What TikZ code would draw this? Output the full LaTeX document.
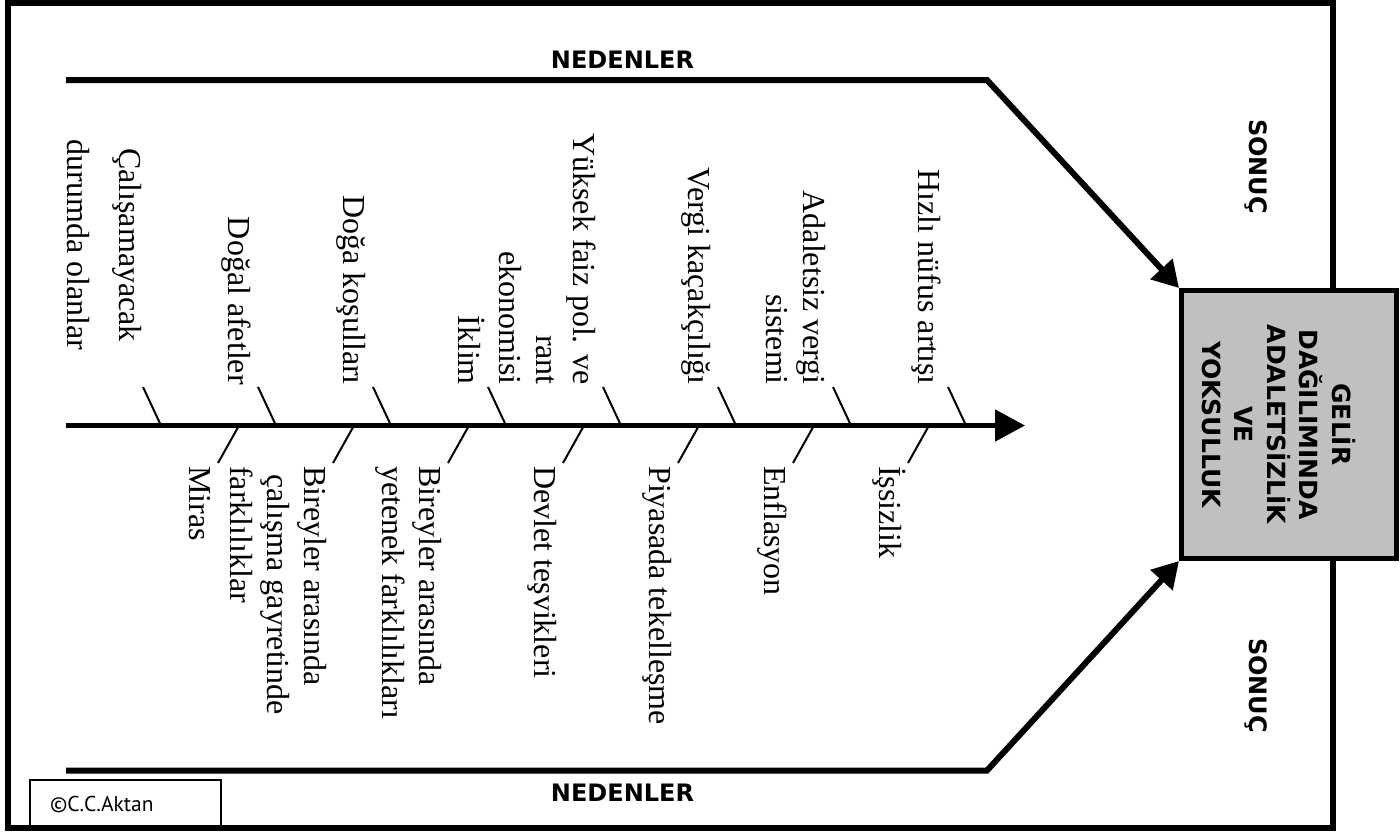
\documentclass[tikz,border=0pt]{standalone}
\usepackage{fontspec}
\setmainfont{Liberation Serif}
\newfontfamily\kalin{DejaVu Sans}
\newfontfamily\imza{PT Sans}
\usetikzlibrary{arrows.meta}
\definecolor{kutugri}{HTML}{C0C0C0}
\tikzstyle{neden} = [rotate=-90, inner sep=0pt, font=\fontsize{32}{37}\selectfont]
\tikzstyle{ustneden} = [neden, align=right, anchor=base east]
\tikzstyle{altneden} = [neden, align=left, anchor=base west]
\tikzstyle{baslik} = [inner sep=0pt, anchor=base, font=\kalin\bfseries\fontsize{24}{29}\selectfont]
\tikzstyle{sonuckutu} = [draw, line width=5pt, fill=kutugri, inner sep=0pt, minimum width=214.5pt, minimum height=268pt]
\tikzstyle{kilcik} = [line width=6pt, -{Triangle[length=26pt,width=29pt]}]
\tikzstyle{omurga} = [line width=5pt, -{Triangle[length=30pt,width=31pt]}]
\tikzstyle{kemik} = [line width=2pt]

\begin{document}
\begin{tikzpicture}[x=1pt,y=-1pt]
\useasboundingbox (0,0) rectangle (1400,831);
% dis cerceve
\draw[line width=6pt] (8,3) rectangle (1333,828);
\node[draw, line width=2pt, anchor=north west, inner xsep=20pt, inner ysep=0pt, text width=151pt, minimum height=49pt, align=left, font=\imza\fontsize{21.5}{26}\selectfont] (imza) at (29,779) {©C.C.Aktan};

% sonuc kutusu
\node[sonuckutu] (sonuc) at (1288.75,424.5) {};
\node[rotate=-90, align=center, inner sep=0pt, font=\kalin\bfseries\fontsize{25}{32.5}\selectfont] (sonuctext) at (1278.5,424.5) {GELİR\\DAĞILIMINDA\\ADALETSİZLİK\\VE\\YOKSULLUK};

% kilcik cizgileri
\coordinate (ust0) at (66,80);
\coordinate (ust1) at (987,80);
\coordinate (alt0) at (66,770.5);
\coordinate (alt1) at (987,770.5);
\draw[kilcik] (ust0) -- (ust1) -- (sonuc.north west);
\draw[kilcik] (alt0) -- (alt1) -- (sonuc.south west);

\node[baslik] (nedenust) at (622.5,68) {NEDENLER};
\node[baslik] (nedenalt) at (622.5,801) {NEDENLER};
\node[baslik, rotate=-90] (sonucust) at (1249,166.5) {SONUÇ};
\node[baslik, rotate=-90] (sonucalt) at (1249,685.5) {SONUÇ};

% omurga
\coordinate (bas) at (66,425.5);
\coordinate (uc) at (1025,425.5);
\draw[omurga] (bas) -- (uc);

\foreach \i in {0,...,7} {
  \coordinate (us\i) at (161+115*\i,425.5);
  \coordinate (ut\i) at (143+115*\i,387);
  \draw[kemik] (us\i) -- (ut\i);
}
\foreach \j in {0,...,6} {
  \coordinate (ls\j) at (239+115*\j,425.5);
  \coordinate (lb\j) at (218+115*\j,463);
  \draw[kemik] (ls\j) -- (lb\j);
}

% ust nedenler
\node[neden, align=center, anchor=base] (u0) at (67,245) {Çalışamayacak\\[15pt]durumda olanlar};
\node[ustneden] (u1) at ([xshift=-30pt,yshift=2pt]ut1) {Doğal afetler};
\node[ustneden] (u2) at ([xshift=-30pt,yshift=2pt]ut2) {Doğa koşulları};
\node[ustneden] (u3) at ([xshift=-30pt,yshift=2pt]ut3) {İklim};
\node[ustneden] (u4) at ([xshift=-104pt,yshift=2pt]ut4) {Yüksek faiz pol. ve\\rant\\ekonomisi};
\node[ustneden] (u5) at ([xshift=-30pt,yshift=2pt]ut5) {Vergi kaçakçılığı};
\node[ustneden] (u6) at ([xshift=-67pt,yshift=2pt]ut6) {Adaletsiz vergi\\sistemi};
\node[ustneden] (u7) at ([xshift=-30pt,yshift=2pt]ut7) {Hızlı nüfus artışı};

% alt nedenler
\node[altneden] (l0) at ([xshift=-29pt,yshift=-3pt]lb0) {Miras};
\node[altneden] (l1) at ([xshift=-103pt,yshift=-3pt]lb1) {Bireyler arasında\\\hspace*{0.25em}çalışma gayretinde\\farklılıklar};
\node[altneden] (l2) at ([xshift=-66pt,yshift=-3pt]lb2) {Bireyler arasında\\yetenek farklılıkları};
\node[altneden] (l3) at ([xshift=-29pt,yshift=-3pt]lb3) {Devlet teşvikleri};
\node[altneden] (l4) at ([xshift=-29pt,yshift=-3pt]lb4) {Piyasada tekelleşme};
\node[altneden] (l5) at ([xshift=-29pt,yshift=-3pt]lb5) {Enflasyon};
\node[altneden] (l6) at ([xshift=-29pt,yshift=-3pt]lb6) {İşsizlik};
\end{tikzpicture}
\end{document}
